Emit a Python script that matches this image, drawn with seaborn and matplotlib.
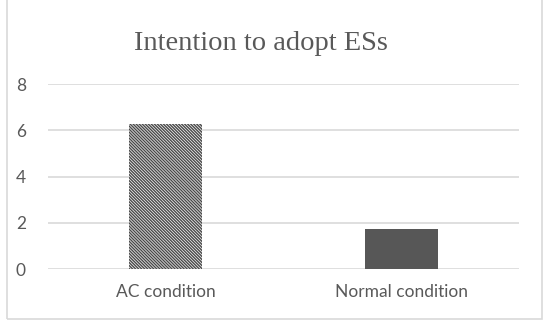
import matplotlib
matplotlib.use("Agg")
import matplotlib.pyplot as plt
import matplotlib.patches as mpatches
import seaborn as sns
import pandas as pd

# --- Data ---
conditions = ["AC condition", "Normal condition"]
intention = [6.27, 1.72]
yticks = [0, 2, 4, 6, 8]

GREY_TXT = "#595959"
GRID = "#d9d9d9"

sns.set_theme(style="white")
plt.rcParams["font.family"] = ["Lato", "DejaVu Sans"]
plt.rcParams["hatch.linewidth"] = 1.0

df = pd.DataFrame({"condition": conditions, "score": intention})

fig = plt.figure(figsize=(5.5, 3.25), dpi=100)
ax = fig.add_axes([48 / 550, 56 / 325, 471 / 550, 185 / 325])

sns.barplot(data=df, x="condition", y="score", hue="condition",
            palette=["#f2f2f2", "#575757"], width=0.31, legend=False,
            saturation=1, ax=ax)

# hatched first bar, solid second bar
bars = ax.patches
bars[0].set_hatch("\\" * 11)
bars[0].set_edgecolor("#4a4a4a")
bars[0].set_linewidth(0)
bars[1].set_linewidth(0)

ax.set_ylim(0, 8)
ax.set_xlim(-0.5, 1.5)
ax.set_yticks(yticks)
ax.set_xlabel("")
ax.set_ylabel("")
ax.yaxis.grid(True, color=GRID, linewidth=1.2)
ax.set_axisbelow(True)
for s in ax.spines.values():
    s.set_visible(False)
ax.tick_params(axis="y", length=0, pad=16, labelsize=12.5, labelcolor=GREY_TXT)
ax.tick_params(axis="x", length=0, pad=11, labelsize=12.5, labelcolor=GREY_TXT)

fig.text(261 / 550, 281 / 325, "Intention to adopt ESs", ha="center", va="center",
         fontsize=20.5, color=GREY_TXT, family=["Liberation Serif", "DejaVu Serif"])

# outer chart frame
frame = mpatches.Rectangle((7 / 550, 6 / 325), 535 / 550, 1.2,
                           transform=fig.transFigure, fill=False,
                           edgecolor=GRID, linewidth=1.2, clip_on=False)
fig.patches.append(frame)

fig.savefig("out.png", dpi=100)
